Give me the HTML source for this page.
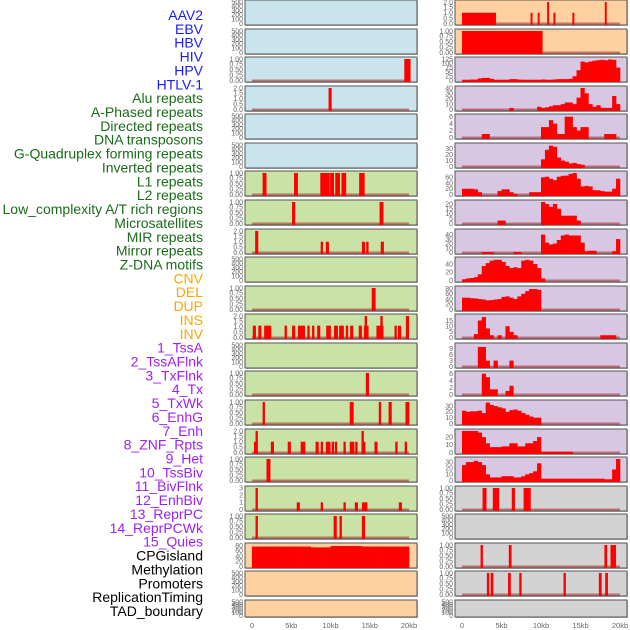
<!DOCTYPE html>
<html><head><meta charset="utf-8"><style>
html,body{margin:0;padding:0;background:#fff;}
svg{display:block;font-family:"Liberation Sans",sans-serif;}
</style></head><body>
<svg id="chart" width="630" height="630" viewBox="0 0 630 630"></svg>
<script>
const labels = ["AAV2","EBV","HBV","HIV","HPV","HTLV-1","Alu repeats","A-Phased repeats","Directed repeats","DNA transposons","G-Quadruplex forming repeats","Inverted repeats","L1 repeats","L2 repeats","Low_complexity A/T rich regions","Microsatellites","MIR repeats","Mirror repeats","Z-DNA motifs","CNV","DEL","DUP","INS","INV","1_TssA","2_TssAFlnk","3_TxFlnk","4_Tx","5_TxWk","6_EnhG","7_Enh","8_ZNF_Rpts","9_Het","10_TssBiv","11_BivFlnk","12_EnhBiv","13_ReprPC","14_ReprPCWk","15_Quies","CPGisland","Methylation","Promoters","ReplicationTiming","TAD_boundary"];
const labelGroups = [6,13,5,15,5];
const xTickLabels = ["0","5kb","10kb","15kb","20kb"];
const xTickValues = [0,5,10,15,20];

const leftTicks = [
[0,100,200,300,400,500],[0,100,200,300,400,500],[0,0.25,0.5,0.75,1],[0,0.5,1,1.5,2],[0,100,200,300,400,500],[0,100,200,300,400,500],
[0,0.25,0.5,0.75,1],[0,0.25,0.5,0.75,1],[0,0.5,1,1.5,2],[0,100,200,300,400,500],[0,0.25,0.5,0.75,1],[0,0.5,1,1.5,2],
[0,100,200,300,400,500],[0,0.25,0.5,0.75,1],[0,0.25,0.5,0.75,1],[0,0.5,1,1.5,2],[0,0.25,0.5,0.75,1],[0,1,2,3],[0,0.25,0.5,0.75,1],
[0,20,40,60,80],[0,100,200,300,400,500],[0,100,200,300,400,500]];
const leftTop = [500,500,1,2,500,500,1,1,2,500,1,2,500,1,1,2,1,3,1,82,500,500];
// bars: [kb, value, widthKb]
const leftBars = [
[],[],
[[19.8,1,0.8]],
[[9.95,2,0.4]],
[],[],
[[1.6,1,0.5],[5.6,1,0.5],[9.0,1,0.6],[9.6,1,0.6],[10.2,1,0.5],[10.9,1,0.6],[11.7,1,0.6],[14.0,1,0.7]],
[[5.3,1,0.4],[16.5,1,0.5]],
[[0.6,2,0.4],[8.9,1,0.3],[9.6,1,0.4],[14.2,1,0.4],[14.7,1,0.3],[16.6,1,0.4]],
[],
[[15.5,1,0.5]],
[[0.3,1.1,0.4],[1.0,1.1,0.4],[2.0,1.1,0.9],[4.3,1.1,0.3],[5.3,1.1,0.4],[6.3,1.1,0.9],[7.2,1.1,0.3],[7.8,1.1,0.3],[8.5,1.1,0.4],[9.6,1.1,0.3],[9.9,1.1,0.3],[10.7,1.1,0.5],[11.4,1.1,0.6],[12.1,1.1,0.3],[12.7,1.1,0.4],[13.8,1.1,0.4],[14.55,1.1,0.6],[14.5,2,0.3],[16.3,1.1,0.9],[16.5,2,0.3],[18.3,1.1,0.3],[18.8,1.1,0.4],[19.8,2,0.4]],
[],
[[14.7,1,0.4]],
[[1.5,1,0.3],[12.7,1,0.5],[16.3,1,0.3],[17.6,1,0.4],[19.8,1,0.5]],
[[0.4,1,0.3],[0.6,2,0.3],[2.6,1,0.4],[4.75,1,0.4],[6.5,1,0.6],[8.3,1,0.4],[8.9,1,0.3],[9.7,1,0.6],[10.3,1,0.3],[10.7,1,0.3],[11.8,1,0.3],[12.75,1,0.6],[13.3,1,0.3],[14.1,2,0.3],[14.25,1,0.4],[15.8,1,0.4],[18.4,1,0.3],[19.6,1,0.3]],
[[2.1,1,0.5]],
[[0.6,3,0.3],[5.9,1,0.4],[8.9,1,0.3],[11.8,1,0.3],[13.3,1,0.4],[14.35,1,0.7],[18.9,1,0.4]],
[[0.6,1,0.3],[10.6,1,0.4],[11.3,1,0.3],[14.2,1,0.4]],
[],[],[]];
const leftBins19 = [76,76,76,76,76,76,76,76,76,76,76,76,76,76,76,73,73,73,73,73,78,78,78,78,78,78,78,78,76,76,76,76,76,76,76,76,76,76,76,76];

const rightTicks = [
[0,0.5,1,1.5,2],[0,0.25,0.5,0.75,1],[0,25,50,75,100,125],[0,10,20,30,40],[0,2,4,6],[0,10,20,30],
[0,20,40,60],[0,5,10,15,20],[0,10,20,30,40],[0,20,40],[0,20,40,60,80],[0,5,10,15],
[0,3,6,9],[0,2,4,6],[0,10,20,30],[0,10,20],[0,10,20,30],[0,0.25,0.5,0.75,1],
[0,100,200,300,400,500],[0,0.25,0.5,0.75,1],[0,0.25,0.5,0.75,1],[0,100,200,300,400,500]];
const rightTop = [2,1,125,40,6.2,36,75,22,48,52,82,19,11,6.2,37,28,35,1,500,1,1,500];
const rightBars = {
 0:[[2.15,1,4.3],[8.8,1,0.25],[9.7,1,0.25],[10.9,2,0.25],[11.7,1,0.25],[14.1,1,0.25],[18.2,2,0.25]],
 1:[[5.1,1,10.2]],
 17:[[2.85,1,0.5],[4.3,1,0.8],[6.5,1,0.4],[8.25,1,0.9]],
 19:[[2.5,1,0.3],[6.1,1,0.35],[18.2,1,0.35],[19.15,1,0.7]],
 20:[[3.3,1,0.3],[3.8,1,0.35],[6.0,1,0.35],[7.4,1,0.3],[13.0,1,0.3],[17.5,1,0.35],[18.3,1,0.35]]
};
const rightBins = {
 2:[2,2,5,5,12,15,15,10,3,3,3,3,8,8,5,3,3,3,3,3,6,3,3,6,8,8,8,10,25,60,110,105,110,115,118,120,118,122,120,75],
 3:[0,0,0,0,0,0,0,0,0,0,0,0,3,0,0,0,0,0,0,5,3,4,6,8,8,10,13,13,10,22,40,30,10,5,8,3,3,3,25,10],
 4:[0,0,0,0,0,1,1,0,0,0,0,0,0,0,0,0,0,0,0,0,3,3,5,4,1,1,6,6,3,2,3,3,0,0,0,0,1,1,1,0],
 5:[0,0,0,0,0,0,0,0,0,0,0,0,0,0,0,0,0,0,0,0,12,28,35,33,15,10,8,5,6,4,3,0,0,0,0,0,0,0,0,0],
 6:[20,20,20,18,8,0,0,0,0,12,18,18,8,2,0,0,0,8,8,8,60,62,55,50,62,65,66,72,75,55,28,30,28,15,15,12,10,10,20,55],
 7:[0,0,0,0,0,0,0,0,0,3,3,0,0,0,0,0,0,0,0,0,22,20,17,20,15,8,8,8,8,3,0,0,0,0,0,0,0,0,0,0],
 8:[0,0,0,0,0,1,1,1,0,0,0,0,0,1,1,0,0,0,0,0,40,22,18,20,28,38,40,38,38,38,22,3,4,4,0,0,0,0,3,30],
 9:[3,5,6,8,15,35,42,48,50,50,45,35,30,32,30,48,50,48,40,30,5,0,0,0,0,0,0,0,0,0,0,0,0,0,0,0,0,0,0,0],
 10:[45,45,43,42,40,38,35,36,38,40,48,50,45,40,50,60,70,78,78,75,0,0,0,0,0,0,0,0,0,0,0,0,0,0,0,0,0,0,0,0],
 11:[0,0,0,3,15,18,8,2,0,2,0,10,5,2,0,0,0,0,0,0,0,0,0,0,0,0,0,0,0,0,0,0,0,0,0,2,2,2,2,0],
 12:[0,0,0,0,10,10,3,0,3,0,0,0,3,0,0,0,0,0,0,0,0,0,0,0,0,0,0,0,0,0,0,0,0,0,0,0,0,0,0,0],
 13:[0,0,0,0,0,6,5,1.5,1.5,0,0,1,2.5,0,0,0,0,0,0,0,0,0,0,0,0,0,0,0,0,0,0,0,0,0,0,0,0,0,0,0],
 14:[22,20,21,21,22,18,36,32,30,28,26,20,23,24,22,18,15,12,10,10,0,0,0,0,0,0,0,0,0,0,0,0,0,0,0,0,0,0,0,0],
 15:[28,28,28,28,26,20,12,7,7,7,8,8,12,12,8,8,12,12,15,20,1,1,1,1,1,1,1,1,0,0,0,0,0,0,0,0,0,0,0,0],
 16:[25,30,30,32,30,25,10,5,5,5,7,7,7,5,5,7,10,12,15,28,3,3,3,3,3,3,3,3,3,3,3,3,3,3,3,3,2,2,18,35]
};

const leftBg = ["#c9e4ec","#c9e4ec","#c9e4ec","#c9e4ec","#c9e4ec","#c9e4ec","#c9e2a5","#c9e2a5","#c9e2a5","#c9e2a5","#c9e2a5","#c9e2a5","#c9e2a5","#c9e2a5","#c9e2a5","#c9e2a5","#c9e2a5","#c9e2a5","#c9e2a5","#ffd0a0","#ffd0a0","#ffd0a0"];
const rightBg = ["#ffd0a0","#ffd0a0","#d7c7e3","#d7c7e3","#d7c7e3","#d7c7e3","#d7c7e3","#d7c7e3","#d7c7e3","#d7c7e3","#d7c7e3","#d7c7e3","#d7c7e3","#d7c7e3","#d7c7e3","#d7c7e3","#d7c7e3","#d3d3d3","#d3d3d3","#d3d3d3","#d3d3d3","#d3d3d3"];

const NS = "http://www.w3.org/2000/svg";
const svg = document.getElementById("chart");
function mk(tag, attrs, parent){const e=document.createElementNS(NS,tag);for(const k in attrs)e.setAttribute(k,attrs[k]);(parent||svg).appendChild(e);return e;}

// labels
const groupColors = ["#1a1aff","#1a6b1a","#ffa500","#a020f0","#000000"];
let gi=0, gc=0;
labels.forEach((t,i)=>{
  const el = mk("text",{x:203,y:20+13.86*i,"text-anchor":"end","font-size":"14",fill:groupColors[gi]});
  el.textContent=t;
  
  
  gc++; if(gc>=labelGroups[gi]){gi++;gc=0;}
});

const cols = [
 {px0:245,px1:417,x0:252,scale:7.85,tickX:243,bg:leftBg,ticks:leftTicks,top:leftTop,side:'left'},
 {px0:455,px1:627,x0:462,scale:7.9,tickX:453,bg:rightBg,ticks:rightTicks,top:rightTop,side:'right'}
];
function fmt(v,ticks){const dec=ticks.some(t=>Math.round(t)!==t);if(!dec)return String(v);const two=ticks.some(t=>Math.round(t*10)!==t*10);return two?v.toFixed(2):v.toFixed(1);}

cols.forEach(c=>{
  const xs = kb=>c.x0+kb*c.scale;
  for(let r=0;r<22;r++){
    const T = Math.round(28.57*r), H = r===21?17:25;
    const g = mk("g",{});
    
    
    mk("rect",{x:c.px0+1,y:T+1,width:c.px1-c.px0,height:H,fill:"#bbb"},g);
    mk("rect",{x:c.px0,y:T,width:c.px1-c.px0,height:H,fill:c.bg[r],stroke:"#555","stroke-width":1},g);
    const yTop=c.top[r];
    const y0=T+H-1.5, span=H-3.5;
    const ys = v=>y0-v/yTop*span;
    c.ticks[r].forEach(tv=>{
      const tt=mk("text",{x:c.tickX,y:ys(tv)+2.3,"text-anchor":"end","font-size":"7",fill:"#666"},g);
      tt.textContent=fmt(tv,c.ticks[r]);
      
      
    });
    let bars=[], bins=null;
    if(c.side==='left'){bars=leftBars[r]; if(r===19) bins=leftBins19;}
    else {bars=rightBars[r]||[]; bins=rightBins[r]||null;}
    const hasData = bars.length>0 || bins;
    if(hasData){
      mk("line",{x1:xs(0),x2:xs(20),y1:y0,y2:y0,stroke:"#b03030","stroke-width":2,opacity:0.6},g);
    }
    if(bins){
      bins.forEach((v,i)=>{
        if(v<=0)return;
        const b=mk("rect",{x:xs(i*0.5),y:ys(v),width:0.5*c.scale+0.3,height:Math.max(0,T+H-ys(v)),fill:"#ff0000"},g);
        
        
      });
    }
    bars.forEach(bd=>{
      const [kb,v,w]=bd;
      const b=mk("rect",{x:xs(kb-w/2),y:ys(v),width:w*c.scale,height:Math.max(0,T+H-ys(v)),fill:"#ff0000"},g);
      
      
    });
  }
  xTickValues.forEach((v,i)=>{
    const t=mk("text",{x:xs(v),y:628,"text-anchor":"middle","font-size":"7.5",fill:"#666"});
    t.textContent=xTickLabels[i];
    
    
  });
});
</script>
</body></html>
